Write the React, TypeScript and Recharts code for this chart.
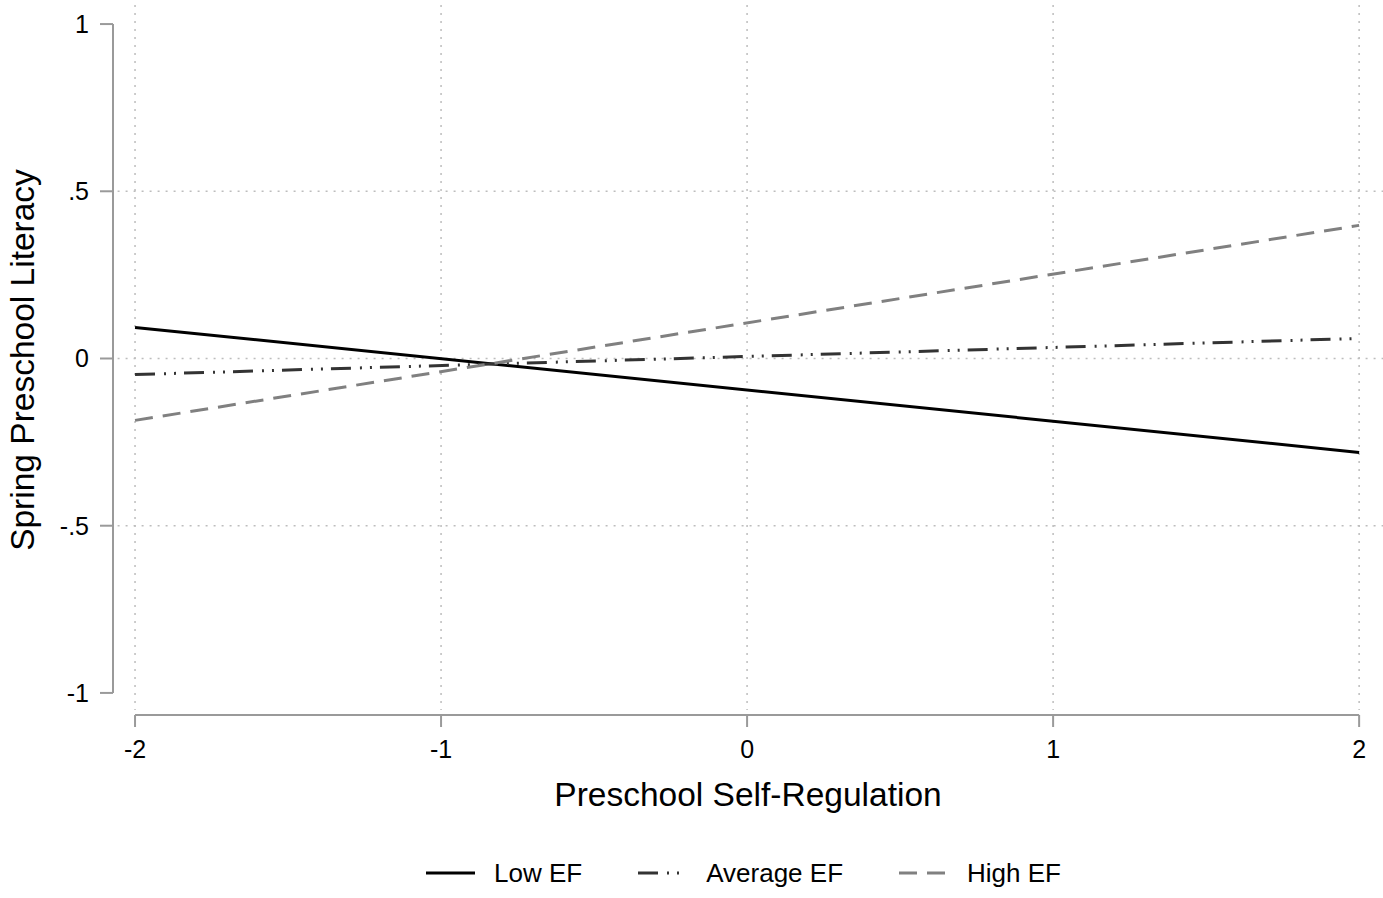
import React from 'react';
import { LineChart, Line, XAxis, YAxis, ReferenceLine, Legend } from 'recharts';

// Data
const selfRegulation = [-2, 2];
const lowEF = [0.093, -0.281];
const averageEF = [-0.048, 0.06];
const highEF = [-0.185, 0.398];

const xTicks = [-2, -1, 0, 1, 2];
const yTicks = [-1, -0.5, 0, 0.5, 1];
const yGrid = [-0.5, 0, 0.5];
const yTickLabels: Record<string, string> = { '-1': '-1', '-0.5': '-.5', '0': '0', '0.5': '.5', '1': '1' };

const seriesInfo = [
  { key: 'low', name: 'Low EF', color: '#000000', dash: undefined as string | undefined },
  { key: 'avg', name: 'Average EF', color: '#333333', dash: '20 9 2 8 2 8' },
  { key: 'high', name: 'High EF', color: '#808080', dash: '18 10' },
];

const data = selfRegulation.map((x, i) => ({ x, low: lowEF[i], avg: averageEF[i], high: highEF[i] }));

// layout constants (plot region extends a bit past the axis range, as in the original)
const X_MIN = -2.072;
const X_MAX = 2.078;
const Y_MIN = -1.066;
const Y_MAX = 1.057;

const FONT = '"Liberation Sans", Arial, Helvetica, sans-serif';
const AXIS_COLOR = '#9a9a9a';
const GRID_COLOR = '#bdbdbd';

const renderLegend = () => (
  <div style={{ height: 40, paddingLeft: 104, display: 'flex', justifyContent: 'center', alignItems: 'center', fontFamily: FONT, fontSize: 26, color: '#000' }}>
    {seriesInfo.map((s, i) => (
      <div key={s.key} style={{ display: 'flex', alignItems: 'center', marginLeft: i === 0 ? 0 : 56 }}>
        <svg width={49} height={10} style={{ marginRight: 19 }}>
          <line x1={0} y1={5} x2={49} y2={5} stroke={s.color} strokeWidth={3} strokeDasharray={s.dash} />
        </svg>
        <span>{s.name}</span>
      </div>
    ))}
  </div>
);

const YLabel = (props: any) => {
  const vb = props.viewBox || {};
  const cx = 22;
  const cy = vb.y + vb.height / 2;
  return (
    <text x={cx} y={cy} transform={`rotate(-90, ${cx}, ${cy})`} textAnchor="middle" dominantBaseline="central" fontFamily={FONT} fontSize={33.5} fill="#000">
      Spring Preschool Literacy
    </text>
  );
};

const XLabel = (props: any) => {
  const vb = props.viewBox || {};
  return (
    <text x={vb.x + vb.width / 2} y={vb.y + 91} textAnchor="middle" fontFamily={FONT} fontSize={33.5} fill="#000">
      Preschool Self-Regulation
    </text>
  );
};

export default function App() {
  return (
    <div style={{ position: 'absolute', left: 0, top: 0, width: 1383, height: 898, background: '#fff' }}>
      <LineChart width={1383} height={898} data={data} margin={{ top: 5, right: 0, bottom: 5, left: 0 }}>
        <XAxis
          dataKey="x"
          type="number"
          domain={[X_MIN, X_MAX]}
          ticks={xTicks}
          allowDataOverflow
          axisLine={false}
          tickLine={{ stroke: AXIS_COLOR, strokeWidth: 2 }}
          tickSize={12}
          tickMargin={13}
          height={138}
          tick={{ fontFamily: FONT, fontSize: 25, fill: '#000' }}
          label={<XLabel />}
        />
        <YAxis
          type="number"
          domain={[Y_MIN, Y_MAX]}
          ticks={yTicks}
          allowDataOverflow
          axisLine={false}
          tickLine={{ stroke: AXIS_COLOR, strokeWidth: 2 }}
          tickSize={13}
          tickMargin={11}
          width={113}
          tickFormatter={(v: number) => yTickLabels[String(v)] ?? String(v)}
          tick={{ fontFamily: FONT, fontSize: 25, fill: '#000' }}
          label={<YLabel />}
        />
        {xTicks.map((v) => (
          <ReferenceLine key={'gx' + v} segment={[{ x: v, y: Y_MAX }, { x: v, y: Y_MIN + 0.015 }]} stroke={GRID_COLOR} strokeDasharray="2 6" strokeWidth={1.5} />
        ))}
        {yGrid.map((v) => (
          <ReferenceLine key={'gy' + v} segment={[{ x: X_MIN + 0.015, y: v }, { x: X_MAX, y: v }]} stroke={GRID_COLOR} strokeDasharray="2 6" strokeWidth={1.5} />
        ))}
        <ReferenceLine segment={[{ x: X_MIN, y: -1 }, { x: X_MIN, y: 1 }]} stroke={AXIS_COLOR} strokeWidth={2} ifOverflow="visible" />
        <ReferenceLine segment={[{ x: -2, y: Y_MIN }, { x: 2, y: Y_MIN }]} stroke={AXIS_COLOR} strokeWidth={2} ifOverflow="visible" />
        <Legend verticalAlign="bottom" content={renderLegend} />
        {seriesInfo.map((s) => (
          <Line
            key={s.key}
            type="linear"
            dataKey={s.key}
            name={s.name}
            stroke={s.color}
            strokeWidth={3}
            strokeDasharray={s.dash}
            dot={false}
            activeDot={false}
            isAnimationActive={false}
          />
        ))}
      </LineChart>
    </div>
  );
}
